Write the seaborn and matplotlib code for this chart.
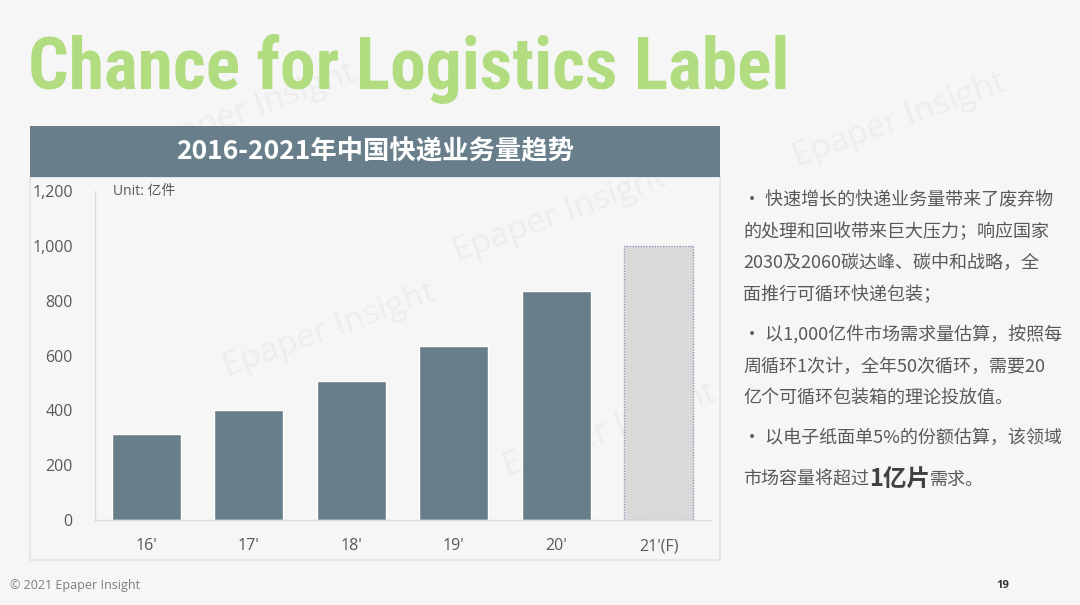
import matplotlib
matplotlib.use("Agg")
import matplotlib.pyplot as plt
import seaborn as sns
import pandas as pd
from matplotlib import font_manager
from matplotlib.patches import Rectangle

# Chart data
years = ["16'", "17'", "18'", "19'", "20'", "21'(F)"]
volume = [312.8, 400.6, 507.1, 635.2, 833.6, 1000]
bar_colors = ["#687f8b", "#687f8b", "#687f8b", "#687f8b", "#687f8b", "#d9d9d9"]
y_ticks = [0, 200, 400, 600, 800, 1000, 1200]

# Texts
page_title = "Chance for Logistics Label"
chart_title = "2016-2021年中国快递业务量趋势"
unit_label = "Unit: 亿件"
note_lines = [
    "• 快速增长的快递业务量带来了废弃物",
    "的处理和回收带来巨大压力；响应国家",
    "2030及2060碳达峰、碳中和战略，全",
    "面推行可循环快递包装；",
    "• 以1,000亿件市场需求量估算，按照每",
    "周循环1次计，全年50次循环，需要20",
    "亿个可循环包装箱的理论投放值。",
    "• 以电子纸面单5%的份额估算，该领域",
]
last_line = ["市场容量将超过", "1亿片", "需求。"]
footer = "© 2021 Epaper Insight"
page_no = "19"

W, H = 1080, 605

sns.set_theme(style="white")
plt.rcParams["font.family"] = ["Open Sans", "Noto Sans CJK SC", "DejaVu Sans"]
cjk = ["Noto Sans CJK SC", "DejaVu Sans"]

# pick a narrow font for the big headline if one is installed
names = {f.name for f in font_manager.fontManager.ttflist}
title_font = "DejaVu Sans"
for cand in ["Roboto Condensed", "Liberation Sans Narrow", "DejaVu Sans"]:
    if cand in names:
        title_font = cand
        break

fig = plt.figure(figsize=(W / 100, H / 100), dpi=100)
fig.patch.set_facecolor("#f6f6f6")

def fx(px):
    return px / W

def fy(py):
    return 1 - py / H

# very faint watermark, kept behind everything
for wx, wy in [(560, 215), (330, 330), (900, 120), (250, 110), (610, 430)]:
    fig.text(fx(wx), fy(wy), "Epaper Insight", fontsize=24, color="#ededed",
             rotation=20, ha="center", va="center", zorder=-10)

# chart frame and title bar
fig.patches.append(Rectangle((fx(30), fy(560)), fx(720) - fx(30), fy(177) - fy(560),
                             transform=fig.transFigure, facecolor="none",
                             edgecolor="#dfe4ea", linewidth=1.2, zorder=1))
fig.patches.append(Rectangle((fx(30), fy(177)), fx(720) - fx(30), fy(126) - fy(177),
                             transform=fig.transFigure, facecolor="#687f8b",
                             edgecolor="none", zorder=2))
fig.text(fx(375), fy(152), chart_title, family=cjk, fontsize=19, fontweight="bold",
         color="white", ha="center", va="center", zorder=3)

# bar chart
ax = fig.add_axes([fx(95), fy(520), fx(710) - fx(95), fy(191) - fy(520)])
ax.set_zorder(5)
ax.set_facecolor("none")
df = pd.DataFrame({"year": years, "volume": volume})
sns.barplot(data=df, x="year", y="volume", hue="year", palette=bar_colors,
            legend=False, width=0.67, saturation=1, ax=ax)
fc = ax.patches[-1]
fc.set_edgecolor("#8c9db3")
fc.set_linestyle((0, (1, 1)))
fc.set_linewidth(1)

ax.set_ylim(0, 1200)
ax.set_yticks(y_ticks)
ax.set_yticklabels([f"{v:,}" for v in y_ticks])
ax.set_xlabel("")
ax.set_ylabel("")
for s in ["top", "right"]:
    ax.spines[s].set_visible(False)
for s in ["left", "bottom"]:
    ax.spines[s].set_color("#d8dde4")
    ax.spines[s].set_linewidth(1)
ax.tick_params(axis="y", length=0, pad=16, labelsize=11.5, labelcolor="#595959")
ax.tick_params(axis="x", length=0, pad=13, labelsize=11.5, labelcolor="#595959")
ax.grid(False)
ax.text(0.03, 1.0, unit_label, transform=ax.transAxes, fontsize=10,
        color="#595959", va="center", ha="left")

# headline, fitted to its width in the reference
t = fig.text(fx(28), fy(89), page_title, family=title_font, fontstretch="condensed",
             fontweight="bold", fontsize=60, color="#b1dc80", va="baseline")
fig.canvas.draw()
r = fig.canvas.get_renderer()
w = t.get_window_extent(r).width
t.set_fontsize(min(62, 60 * 762 / w))

# right-hand notes
line_y = [200, 232, 263, 295, 335, 367, 398, 438]
for txt, yy in zip(note_lines, line_y):
    fig.text(fx(743), fy(yy), txt, family=cjk, fontsize=13, fontweight="medium",
             color="#595959", va="center")

x0 = 743
for i, part in enumerate(last_line):
    bold = i == 1
    p = fig.text(fx(x0), fy(480), part, family=cjk, fontsize=17 if bold else 13,
                 fontweight="bold" if bold else "medium",
                 color="#404040" if bold else "#595959", va="center")
    fig.canvas.draw()
    x0 += p.get_window_extent(r).width

fig.text(fx(10), fy(586), footer, fontsize=9, color="#7f7f7f", va="center")
fig.text(fx(1003), fy(586), page_no, fontsize=8, fontweight="bold", color="#333333",
         va="center", ha="center")

plt.savefig("out.png", dpi=100, facecolor=fig.get_facecolor())
